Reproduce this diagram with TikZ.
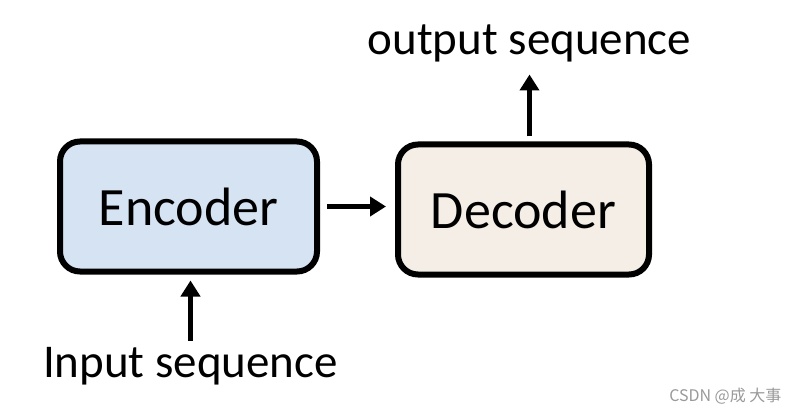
\documentclass[tikz,border=0pt]{standalone}
\usepackage{fontspec}
\setmainfont{Carlito}
\newfontfamily\cjk{Noto Sans CJK SC}
\usepackage{tikz}
\usetikzlibrary{arrows.meta, positioning}
\definecolor{encblue}{RGB}{214,227,242}
\definecolor{decbeige}{RGB}{245,238,231}
\tikzset{
    block/.style={rectangle, draw=black, line width=6pt, rounded corners=20pt, text centered, inner sep=0pt, minimum height=130pt, font=\fontsize{54}{60}\selectfont},
    arrow/.style={line width=5pt, -{Triangle[length=16pt, width=19pt]}},
    textlabel/.style={inner sep=0pt, text centered}
}

\begin{document}
\begin{tikzpicture}[x=1pt, y=-1pt]
    \useasboundingbox (0,0) rectangle (799,414);
    % Nodes
    \node (encoder) [block, fill=encblue, minimum width=257pt] at (188.5,206.5) {Encoder};
    \node (decoder) [block, fill=decbeige, minimum width=251pt, right=75pt of encoder, yshift=-3pt] {Decoder};
    \node (input) [textlabel, font=\fontsize{47}{52}\selectfont, below=73pt of encoder, xshift=2pt] {Input sequence};
    \node (output) [textlabel, font=\fontsize{47}{52}\selectfont, above=79pt of decoder, xshift=6pt] {output sequence};
    \node (mark) [anchor=base east, text=gray!80, font=\cjk\fontsize{16}{18}\selectfont] at (785,401) {CSDN @成 大事};
    % Arrows
    \draw [arrow, shorten <=7pt, shorten >=9pt] (encoder.east) -- (encoder.east -| decoder.west);
    \draw [arrow, shorten <=7pt, shorten >=6pt] (input) -- (input |- encoder.south);
    \draw [arrow, shorten <=5pt, shorten >=12pt] (output |- decoder.north) -- (output);
\end{tikzpicture}
\end{document}
